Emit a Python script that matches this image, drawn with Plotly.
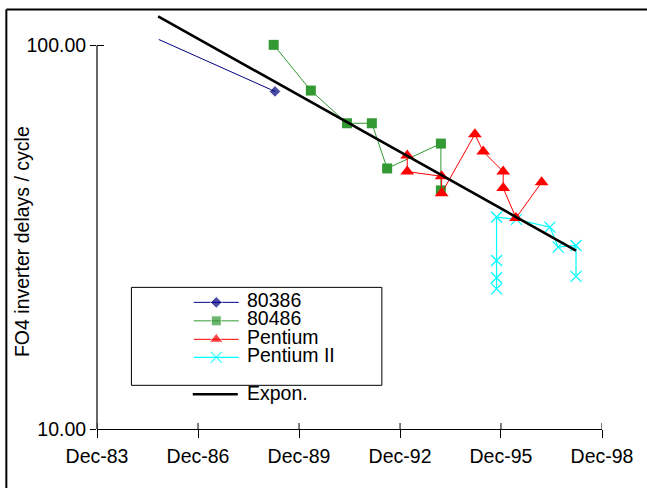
import plotly.graph_objects as go
import math

# ---------------- data ----------------
d386 = ["1985-10-01", "1989-03-15"]
v386 = [103.7, 75.9]

d486 = ["1989-03-01", "1990-04-08", "1991-05-05", "1992-01-30", "1992-07-14", "1994-02-17", "1994-02-17"]
v486 = [100.4, 76.3, 62.7, 62.7, 47.8, 55.5, 41.9]

dPent = ["1993-02-17", "1993-02-17", "1994-02-25", "1994-02-25", "1995-02-21", "1995-05-22",
         "1995-12-25", "1995-12-25", "1996-05-12", "1997-02-14"]
vPent = [51.7, 46.9, 45.6, 41.2, 58.7, 52.9, 46.9, 42.5, 35.5, 44.0]

dP2 = ["1995-10-14", "1995-10-14", "1995-10-14", "1995-10-14", "1996-05-17", "1997-05-15",
       "1997-08-13", "1998-02-22", "1998-02-22"]
vP2 = [23.2, 24.8, 27.5, 35.7, 35.2, 33.6, 29.8, 30.1, 25.0]

dTrend = ["1985-09-24", "1998-02-22"]
vTrend = [119.2, 29.2]

series_names = ["80386", "80486", "Pentium", "Pentium II"]
trend_name = "Expon."
x_tickvals = ["1983-12-01", "1986-12-01", "1989-12-01", "1992-12-01", "1995-12-01", "1998-12-01"]
x_ticktext = ["Dec-83", "Dec-86", "Dec-89", "Dec-92", "Dec-95", "Dec-98"]
y_tickvals = [10, 100]
y_ticktext = ["10.00", "100.00"]
x_range = ["1983-12-01", "1998-12-01"]
y_range_log = [1, 2.09]

# ---------------- layout geometry (pixels) ----------------
W, H = 647, 488
L, R, T, B = 97.3, 602.0, 10.5, 428.7
FONT = "Liberation Sans, Arial, sans-serif"
FS = 19.5


def xp(px):
    return (px - L) / (R - L)


def yp(py):
    return (B - py) / (B - T)


def ylogpaper(v):
    return (math.log10(v) - y_range_log[0]) / (y_range_log[1] - y_range_log[0])


NAVY, GREEN, RED, CYAN = "#000080", "#339933", "#ff0000", "#00ffff"

styles = {
    "80386": dict(color=NAVY, symbol="diamond", size=9, lw=1),
    "80486": dict(color=GREEN, symbol="square", size=10, lw=1),
    "Pentium": dict(color=RED, symbol="triangle-up", size=12, lw=1),
    "Pentium II": dict(color=CYAN, symbol="x-thin", size=11, lw=1.2),
}

fig = go.Figure()


def add_series(name, xs, ys, sizes=None):
    s = styles[name]
    marker = dict(color=s["color"], symbol=s["symbol"], size=sizes if sizes else s["size"])
    if s["symbol"] == "x-thin":
        marker["line"] = dict(color=s["color"], width=1.3)
    fig.add_trace(go.Scatter(x=xs, y=ys, mode="lines+markers", name=name,
                             line=dict(color=s["color"], width=s["lw"]),
                             marker=marker, showlegend=False, cliponaxis=False))


add_series("80386", d386, v386, sizes=[0, styles["80386"]["size"]])
add_series("80486", d486, v486)
add_series("Pentium II", dP2, vP2)
add_series("Pentium", dPent, vPent)
fig.add_trace(go.Scatter(x=dTrend, y=vTrend, mode="lines", name=trend_name,
                         line=dict(color="black", width=2.6), showlegend=False))

# ---------------- custom legend (drawn on a pixel overlay axis) ----------------
leg_rows = [302, 320.5, 339, 357]
leg_x0, leg_x1 = 194, 239
for name, ly in zip(series_names, leg_rows):
    s = styles[name]
    marker = dict(color=s["color"], symbol=s["symbol"], size=[0, s["size"], 0])
    if s["symbol"] == "x-thin":
        marker["line"] = dict(color=s["color"], width=1.3)
    fig.add_trace(go.Scatter(x=[leg_x0, (leg_x0 + leg_x1) / 2, leg_x1], y=[ly, ly, ly],
                             mode="lines+markers", xaxis="x3", yaxis="y3",
                             line=dict(color=s["color"], width=1.3 if name == "Pentium II" else 1),
                             marker=marker, showlegend=False, hoverinfo="skip", cliponaxis=False))
fig.add_trace(go.Scatter(x=[193, 238], y=[394, 394], mode="lines", xaxis="x3", yaxis="y3",
                         line=dict(color="black", width=2.6), showlegend=False, hoverinfo="skip"))

annotations = []
for name, ly in zip(series_names + [trend_name], [300, 318, 337, 355, 393]):
    annotations.append(dict(x=xp(245), y=yp(ly), xref="paper", yref="paper", text=name,
                            showarrow=False, xanchor="left", yanchor="middle",
                            font=dict(family=FONT, size=FS, color="black")))
annotations.append(dict(x=xp(23), y=yp(241), xref="paper", yref="paper",
                        text="FO4 inverter delays / cycle", textangle=-90, showarrow=False,
                        xanchor="center", yanchor="middle",
                        font=dict(family=FONT, size=FS, color="black")))

shapes = [
    # legend box
    dict(type="rect", xref="paper", yref="paper", x0=xp(131.7), x1=xp(382), y0=yp(385), y1=yp(287),
         line=dict(color="black", width=1), layer="below"),
    # y axis line (from 10 to 100 only)
    dict(type="line", xref="paper", yref="paper", x0=0, x1=0, y0=0, y1=ylogpaper(100),
         line=dict(color="black", width=1.2)),
    # chart area border (left and top visible)
    dict(type="line", xref="paper", yref="paper", x0=xp(6.7), x1=xp(6.7), y0=yp(9), y1=yp(500),
         line=dict(color="black", width=2)),
    dict(type="line", xref="paper", yref="paper", x0=xp(6.7), x1=xp(660), y0=yp(9), y1=yp(9),
         line=dict(color="black", width=2)),
]
# inner halves of the cross-style tick marks
for tv in x_tickvals:
    shapes.append(dict(type="line", xref="x", yref="paper", x0=tv, x1=tv, y0=0, y1=yp(B - 6),
                       line=dict(color="black", width=1)))
for tv in y_tickvals[1:]:
    shapes.append(dict(type="line", xref="paper", yref="paper", x0=0, x1=xp(L + 7),
                       y0=ylogpaper(tv), y1=ylogpaper(tv), line=dict(color="black", width=1)))

axfont = dict(family=FONT, size=FS, color="black")
fig.update_layout(
    width=W, height=H,
    margin=dict(l=L, r=W - R, t=T, b=H - B, pad=0),
    paper_bgcolor="white", plot_bgcolor="white",
    showlegend=False,
    font=dict(family=FONT, size=FS, color="black"),
    xaxis=dict(type="date", range=x_range, tickvals=x_tickvals, ticktext=x_ticktext,
               ticks="outside", ticklen=8, tickcolor="black", tickwidth=1,
               showline=True, linecolor="black", linewidth=1.2, showgrid=False, zeroline=False,
               tickfont=axfont, ticklabelstandoff=1),
    yaxis=dict(type="log", range=y_range_log, tickvals=y_tickvals, ticktext=y_ticktext,
               ticks="outside", ticklen=6, tickcolor="black", tickwidth=1,
               showline=False, showgrid=False, zeroline=False, tickfont=axfont,
               ticklabelstandoff=0),
    xaxis3=dict(range=[L, R], overlaying="x", visible=False),
    yaxis3=dict(range=[B, T], overlaying="y", visible=False),
    annotations=annotations,
    shapes=shapes,
)

fig.write_html("out.html")
